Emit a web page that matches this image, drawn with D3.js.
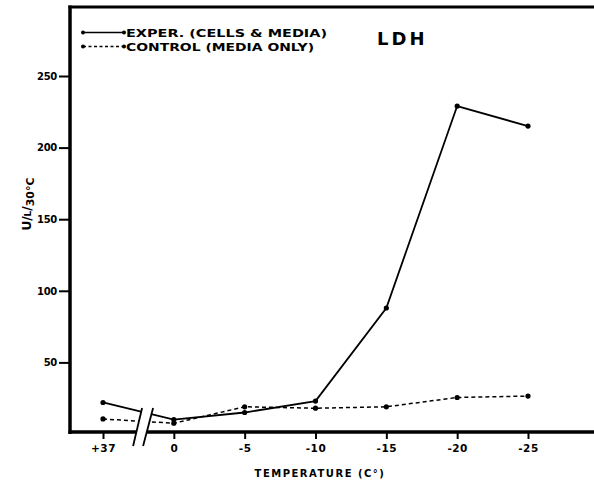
<!DOCTYPE html>
<html>
<head>
<meta charset="utf-8">
<script src="https://cdn.jsdelivr.net/npm/d3@7"></script>
<style>
  body { margin: 0; background: #fff; }
  svg { display: block; }
  text { font-family: "DejaVu Sans", Arial, sans-serif; font-weight: bold; fill: #000; }
</style>
</head>
<body>
<div id="chart"></div>
<script>
// LDH release vs freezing temperature
const temps = ["+37", "0", "-5", "-10", "-15", "-20", "-25"];
const exper = [22, 10, 15, 23, 88, 229, 215];
const control = [10.5, 7.5, 19, 18, 19, 25.5, 26.5];
const yTicks = [50, 100, 150, 200, 250];

const width = 594, height = 489;

const frame = { left: 70, top: 7, bottom: 432, right: 594 };

const x = d3.scalePoint()
    .domain(temps)
    .range([103, 528]);

const y = d3.scaleLinear()
    .domain([0, 250])
    .range([434, 76]);

const svg = d3.select('#chart')
    .append('svg')
    .attr('width', width)
    .attr('height', height);

// data series
const series = [
    { name: 'exper', values: exper, dash: null, sw: 1.8 },
    { name: 'control', values: control, dash: '4,3', sw: 1.5 }
];

const line = d3.line()
    .x(d => x(d.t))
    .y(d => y(d.v));

series.forEach(s => {
    const pts = s.values.map((v, i) => ({ t: temps[i], v }));
    svg.append('path')
        .datum(pts)
        .attr('fill', 'none')
        .attr('stroke', '#000')
        .attr('stroke-width', s.sw)
        .attr('stroke-dasharray', s.dash)
        .attr('d', line);
    svg.append('g')
        .selectAll('circle')
        .data(pts)
        .join('circle')
        .attr('cx', d => x(d.t))
        .attr('cy', d => y(d.v))
        .attr('r', 2.6)
        .attr('fill', '#000');
});

// frame: left axis, top border, bottom axis
svg.append('line')
    .attr('x1', frame.left).attr('x2', frame.left)
    .attr('y1', frame.top - 1.5).attr('y2', frame.bottom + 2)
    .attr('stroke', '#000').attr('stroke-width', 3.5);
svg.append('line')
    .attr('x1', frame.left - 1.5).attr('x2', frame.right)
    .attr('y1', frame.top).attr('y2', frame.top)
    .attr('stroke', '#000').attr('stroke-width', 3);
svg.append('line')
    .attr('x1', frame.left - 1.5).attr('x2', frame.right)
    .attr('y1', frame.bottom).attr('y2', frame.bottom)
    .attr('stroke', '#000').attr('stroke-width', 3.5);

// axes
const yAxis = svg.append('g')
    .attr('transform', `translate(${frame.left},0)`)
    .call(d3.axisLeft(y).tickValues(yTicks).tickSizeInner(11).tickSizeOuter(0).tickPadding(2));
yAxis.select('.domain').remove();
yAxis.selectAll('line').attr('stroke-width', 2);
yAxis.selectAll('text')
    .style('font-family', '"DejaVu Sans", sans-serif')
    .style('font-weight', 'bold')
    .style('font-size', '10px')
    .attr('letter-spacing', '-0.3');

const xAxis = svg.append('g')
    .attr('transform', `translate(0,${frame.bottom})`)
    .call(d3.axisBottom(x).tickSizeInner(7).tickSizeOuter(0).tickPadding(6));
xAxis.select('.domain').remove();
xAxis.selectAll('line').attr('stroke-width', 2);
xAxis.selectAll('text')
    .style('font-family', '"DejaVu Sans", sans-serif')
    .style('font-weight', 'bold')
    .style('font-size', '10.5px')
    .attr('letter-spacing', '0.5');

// axis break between +37 and 0
const step = x.step();
const bx = x(temps[0]) + step * 0.58;
svg.append('polygon')
    .attr('points', [
        [bx - 2, 408], [bx + 9, 408], [bx - 1, 446], [bx - 11, 446]
    ].map(p => p.join(',')).join(' '))
    .attr('fill', '#fff');
[[bx - 2, bx - 11], [bx + 9, bx - 1]].forEach(([xt, xb]) => {
    svg.append('line')
        .attr('x1', xt).attr('y1', 408)
        .attr('x2', xb).attr('y2', 446)
        .attr('stroke', '#000').attr('stroke-width', 1.8);
});

// legend
const legend = [
    { label: 'EXPER. (CELLS & MEDIA)', dash: null, y: 32.5 },
    { label: 'CONTROL (MEDIA ONLY)', dash: '3,2.5', y: 46.5 }
];
legend.forEach(l => {
    svg.append('line')
        .attr('x1', 83).attr('x2', 124)
        .attr('y1', l.y).attr('y2', l.y)
        .attr('stroke', '#000').attr('stroke-width', 1.6)
        .attr('stroke-dasharray', l.dash);
    svg.selectAll(null)
        .data([83, 124])
        .join('circle')
        .attr('cx', d => d).attr('cy', l.y).attr('r', 2)
        .attr('fill', '#000');
    svg.append('text')
        .attr('x', 126).attr('y', l.y + 4)
        .style('font-size', '10px')
        .attr('textLength', l.label.length > 21 ? 201 : 188)
        .attr('lengthAdjust', 'spacingAndGlyphs')
        .text(l.label);
});

// title
svg.append('text')
    .attr('x', 377).attr('y', 45)
    .style('font-size', '18px')
    .attr('letter-spacing', '3')
    .text('LDH');

// axis titles
svg.append('text')
    .attr('x', 320).attr('y', 477)
    .attr('text-anchor', 'middle')
    .style('font-size', '10px')
    .attr('letter-spacing', '1.5')
    .text('TEMPERATURE (C°)');

svg.append('text')
    .attr('transform', 'translate(31,204) rotate(-90)')
    .attr('text-anchor', 'middle')
    .style('font-size', '12px')
    .text('U/')
    .call(t => t.append('tspan').style('font-size', '9px').text('L'))
    .call(t => t.append('tspan').text('/'))
    .call(t => t.append('tspan').attr('dy', 3).style('font-size', '11px').text('30°C'));
</script>
</body>
</html>
